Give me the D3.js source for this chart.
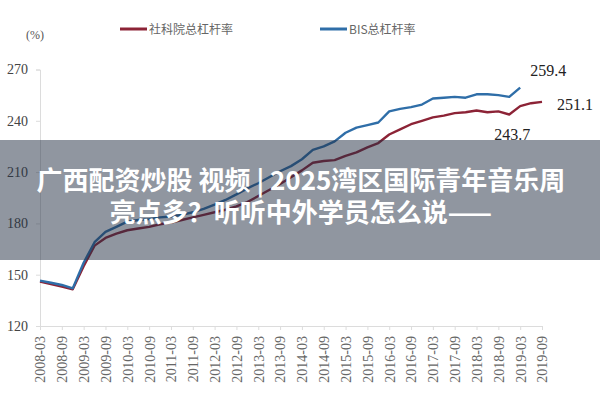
<!DOCTYPE html>
<html><head><meta charset="utf-8">
<script src="https://cdn.jsdelivr.net/npm/d3@7/dist/d3.min.js"></script>
<style>
html,body{margin:0;padding:0;background:#fff;}
svg{display:block;}
</style></head>
<body>
<svg id="chart" width="600" height="400"></svg>
<script>
// quarterly dates
const quarters = [
 "2008-03","2008-06","2008-09","2008-12","2009-03","2009-06","2009-09","2009-12",
 "2010-03","2010-06","2010-09","2010-12","2011-03","2011-06","2011-09","2011-12",
 "2012-03","2012-06","2012-09","2012-12","2013-03","2013-06","2013-09","2013-12",
 "2014-03","2014-06","2014-09","2014-12","2015-03","2015-06","2015-09","2015-12",
 "2016-03","2016-06","2016-09","2016-12","2017-03","2017-06","2017-09","2017-12",
 "2018-03","2018-06","2018-09","2018-12","2019-03","2019-06","2019-09"];
const tickLabels = ["2008-03","2008-09","2009-03","2009-09","2010-03","2010-09","2011-03","2011-09",
 "2012-03","2012-09","2013-03","2013-09","2014-03","2014-09","2015-03","2015-09",
 "2016-03","2016-09","2017-03","2017-09","2018-03","2018-09","2019-03","2019-09"];
const yTicks = [120,150,180,210,240,270];
// 社科院总杠杆率 (through 2019-09)
const cassValues = [146,144.5,143,141.5,155,167,171.5,174,
 176,177,178,179.5,180.5,182,183.5,185,
 186.5,188,190,192.5,196,199.5,203,207,
 211,215.5,216.5,217,219.5,221.5,224.5,227,
 232,235,238,240,242,243,244.5,245,
 246,245,245.5,243.7,248.6,250.3,251.1];
// BIS总杠杆率 (through 2019-03)
const bisValues = [146.5,145.3,144,142,157,169,175,178,
 181,182,182.5,183.5,184,185,186.5,188.5,
 191,193.7,197,200.5,203.5,207,210.5,213.5,
 217.5,223,225,228,233,236,237.5,239,
 245.5,247,248,249.5,253,253.5,254,253.5,
 255.5,255.5,255,254,259.4];
const seriesNames = ["社科院总杠杆率","BIS总杠杆率"];
const seriesColors = ["#8c2336","#2f6ea8"];
const annotations = [
  {label:"259.4", q:"2019-03", v:259.4},
  {label:"251.1", q:"2019-09", v:251.1},
  {label:"243.7", q:"2018-12", v:243.7}
];
const overlayLines = ["广西配资炒股 视频 | 2025湾区国际青年音乐周","亮点多？听听中外学员怎么说——"];

const svg = d3.select("#chart");
const x = d3.scalePoint().domain(quarters).range([40,542]);
const y = d3.scaleLinear().domain([120,270]).range([326,69.5]);

// y axis
const yAxis = svg.append("g").attr("transform","translate(40,0)")
  .call(d3.axisLeft(y).tickValues(yTicks).tickSize(4).tickPadding(8));
yAxis.select(".domain").attr("stroke","#dcdcdc");
yAxis.selectAll(".tick line").attr("stroke","#dcdcdc");
yAxis.selectAll("text").attr("font-family","'Liberation Serif','Times New Roman',serif")
  .attr("font-size",14).attr("fill","#444");

// x axis
const xAxis = svg.append("g").attr("transform","translate(0,326)")
  .call(d3.axisBottom(x).tickValues(tickLabels).tickSize(4).tickPadding(6));
xAxis.select(".domain").attr("stroke","#dcdcdc");
xAxis.selectAll(".tick line").attr("stroke","#dcdcdc");
xAxis.selectAll("text")
  .attr("font-family","'Liberation Serif','Times New Roman',serif")
  .attr("font-size",14).attr("fill","#666")
  .attr("text-anchor","end")
  .attr("transform","rotate(-90)")
  .attr("x",-10).attr("y",0).attr("dy","0.35em");

// lines
const line = d3.line().x((d,i)=>x(quarters[i])).y(d=>y(d));
[cassValues,bisValues].forEach((vals,k)=>{
  svg.append("path").datum(vals).attr("fill","none")
    .attr("stroke",seriesColors[k]).attr("stroke-width",2.4)
    .attr("stroke-linejoin","round").attr("d",line);
});

// annotations
const annOffsets = [[10,-12],[15,8],[-15,26]];
annotations.forEach((a,i)=>{
  svg.append("text").attr("x",x(a.q)+annOffsets[i][0]).attr("y",y(a.v)+annOffsets[i][1])
    .attr("font-family","'Liberation Serif','Times New Roman',serif")
    .attr("font-size",16).attr("fill","#222").text(a.label);
});

// unit
svg.append("text").attr("x",26).attr("y",39)
  .attr("font-family","'Liberation Serif',serif").attr("font-size",12).attr("fill","#555").text("(%)");

// legend
const legX = [120,320];
seriesNames.forEach((n,k)=>{
  svg.append("line").attr("x1",legX[k]).attr("x2",legX[k]+27).attr("y1",29).attr("y2",29)
    .attr("stroke",seriesColors[k]).attr("stroke-width",3);
  svg.append("text").attr("x",legX[k]+29).attr("y",33.5)
    .attr("font-family","'Noto Sans CJK SC',sans-serif").attr("font-size",12)
    .attr("fill","#666").text(n);
});

// overlay band
svg.append("rect").attr("x",0).attr("y",140).attr("width",600).attr("height",120)
  .attr("fill","rgba(33,45,65,0.5)");
overlayLines.forEach((t,i)=>{
  svg.append("text").attr("x",301).attr("y",190+i*32).attr("text-anchor","middle")
    .attr("font-family","'Noto Sans CJK SC',sans-serif").attr("font-weight","bold")
    .attr("font-size",26).attr("fill","#fff").text(t);
});
</script>
</body></html>
